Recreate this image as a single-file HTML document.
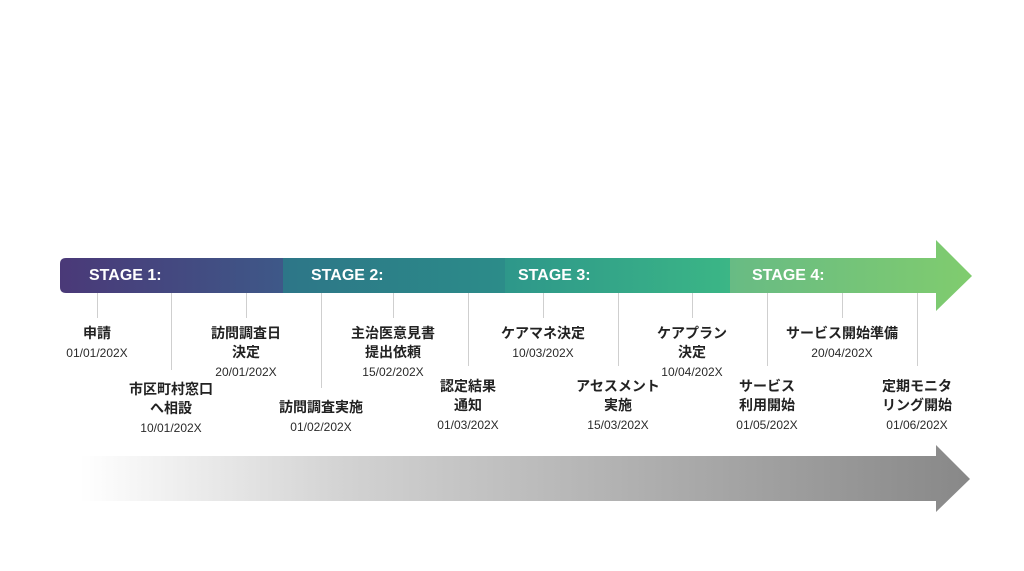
<!DOCTYPE html>
<html><head><meta charset="utf-8"><style>
body{margin:0;width:1024px;height:571px;background:#fff;position:relative;overflow:hidden;font-family:"Liberation Sans","Noto Sans CJK JP",sans-serif;}
.t{position:absolute;width:160px;margin-left:-80px;text-align:center;color:#222;font-weight:bold;font-size:14px;line-height:19px;}
.t span{display:block;font-weight:normal;font-size:12px;color:#2a2a2a;line-height:20px;}
.tick{position:absolute;top:293px;width:1px;background:#cfcfcf;}
.st{position:absolute;top:267px;color:#fff;font-weight:bold;font-size:16px;}
</style></head><body>
<svg width="1024" height="571" style="position:absolute;left:0;top:0">
<defs>
<linearGradient id="g1" x1="0" x2="1"><stop offset="0" stop-color="#4a3978"/><stop offset="1" stop-color="#3e5888"/></linearGradient>
<linearGradient id="g2" x1="0" x2="1"><stop offset="0" stop-color="#2d7688"/><stop offset="1" stop-color="#2c8c89"/></linearGradient>
<linearGradient id="g3" x1="0" x2="1"><stop offset="0" stop-color="#2e978a"/><stop offset="1" stop-color="#3bb686"/></linearGradient>
<linearGradient id="g4" x1="0" x2="1"><stop offset="0" stop-color="#68bb84"/><stop offset="1" stop-color="#80cc6e"/></linearGradient>
<linearGradient id="gg" x1="0" x2="1"><stop offset="0" stop-color="#ffffff"/><stop offset="0.3" stop-color="#d2d2d2"/><stop offset="1" stop-color="#888"/></linearGradient>
</defs>
<path d="M66 258 H283 V293 H66 Q60 293 60 287 V264 Q60 258 66 258Z" fill="url(#g1)"/>
<rect x="283" y="258" width="222" height="35" fill="url(#g2)"/>
<rect x="505" y="258" width="225" height="35" fill="url(#g3)"/>
<path d="M730 258 H936 V240 L972 276 L936 311 V293 H730Z" fill="url(#g4)"/>
<path d="M80 456 H936 V445 L970 479 L936 512 V501 H80Z" fill="url(#gg)"/>
</svg>
<div class="st" style="left:89px">STAGE 1:</div>
<div class="st" style="left:311px">STAGE 2:</div>
<div class="st" style="left:518px">STAGE 3:</div>
<div class="st" style="left:752px">STAGE 4:</div>
<div class="tick" style="left:97px;height:25px"></div>
<div class="tick" style="left:171px;height:77px"></div>
<div class="tick" style="left:246px;height:25px"></div>
<div class="tick" style="left:321px;height:95px"></div>
<div class="tick" style="left:393px;height:25px"></div>
<div class="tick" style="left:468px;height:73px"></div>
<div class="tick" style="left:543px;height:25px"></div>
<div class="tick" style="left:618px;height:73px"></div>
<div class="tick" style="left:692px;height:25px"></div>
<div class="tick" style="left:767px;height:73px"></div>
<div class="tick" style="left:842px;height:25px"></div>
<div class="tick" style="left:917px;height:73px"></div>
<div class="t" style="left:97px;top:324px">申請<span>01/01/202X</span></div>
<div class="t" style="left:171px;top:380px">市区町村窓口<br>へ相設<span>10/01/202X</span></div>
<div class="t" style="left:246px;top:324px">訪問調査日<br>決定<span>20/01/202X</span></div>
<div class="t" style="left:321px;top:398px">訪問調査実施<span>01/02/202X</span></div>
<div class="t" style="left:393px;top:324px">主治医意見書<br>提出依頼<span>15/02/202X</span></div>
<div class="t" style="left:468px;top:377px">認定結果<br>通知<span>01/03/202X</span></div>
<div class="t" style="left:543px;top:324px">ケアマネ決定<span>10/03/202X</span></div>
<div class="t" style="left:618px;top:377px">アセスメント<br>実施<span>15/03/202X</span></div>
<div class="t" style="left:692px;top:324px">ケアプラン<br>決定<span>10/04/202X</span></div>
<div class="t" style="left:767px;top:377px">サービス<br>利用開始<span>01/05/202X</span></div>
<div class="t" style="left:842px;top:324px">サービス開始準備<span>20/04/202X</span></div>
<div class="t" style="left:917px;top:377px">定期モニタ<br>リング開始<span>01/06/202X</span></div>
</body></html>
